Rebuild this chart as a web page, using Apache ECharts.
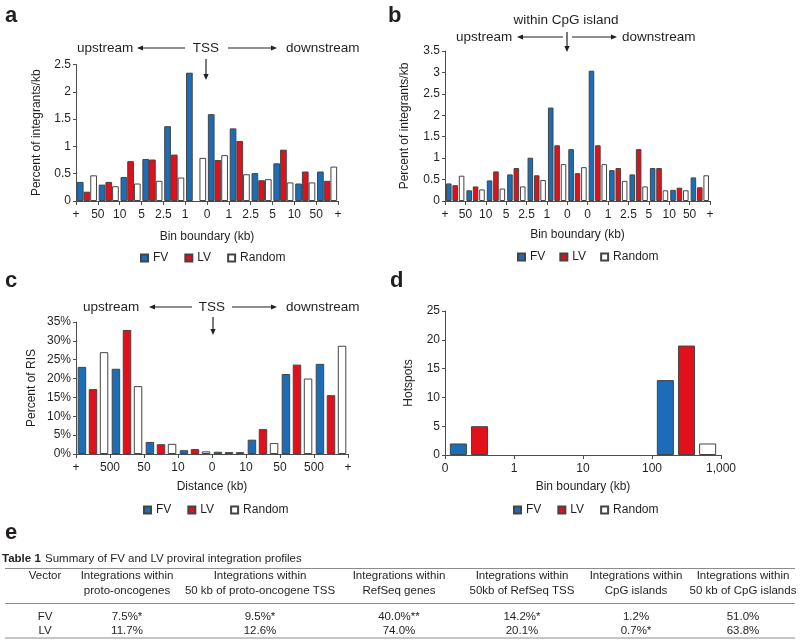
<!DOCTYPE html>
<html>
<head>
<meta charset="utf-8">
<script src="https://cdn.jsdelivr.net/npm/echarts@6.0.0/dist/echarts.min.js"></script>
<style>
    html, body {margin: 0; padding: 0; background: #fff;}
    #main {width: 800px; height: 642px;}
</style>
</head>
<body>
<div id="main"></div>
<script>
// a: distance to TSS
var fvA = [0.35, 0.30, 0.44, 0.77, 1.37, 2.35, 1.59, 1.33, 0.51, 0.69, 0.32, 0.54]
var lvA = [0.17, 0.35, 0.73, 0.76, 0.85, 0, 0.75, 1.10, 0.38, 0.94, 0.54, 0.37]
var rndA = [0.47, 0.27, 0.32, 0.37, 0.43, 0.79, 0.84, 0.49, 0.40, 0.34, 0.34, 0.63]
var tickA = ['+', '50', '10', '5', '2.5', '1', '0', '1', '2.5', '5', '10', '50', '+']

// b: distance to CpG island
var fvB = [0.41, 0.25, 0.48, 0.62, 1.01, 2.18, 1.21, 3.04, 0.72, 0.62, 0.77, 0.26, 0.55]
var lvB = [0.37, 0.34, 0.69, 0.77, 0.60, 1.30, 0.65, 1.30, 0.77, 1.21, 0.77, 0.31, 0.32]
var rndB = [0.59, 0.27, 0.29, 0.34, 0.49, 0.86, 0.79, 0.86, 0.47, 0.34, 0.25, 0.25, 0.60]
var tickB = ['+', '50', '10', '5', '2.5', '1', '0', '0', '1', '2.5', '5', '10', '50', '+']

// c: percent of RIS
var fvC = [23.1, 22.6, 3.2, 1.0, 0.6, 3.8, 21.2, 23.9]
var lvC = [17.2, 32.9, 2.6, 1.3, 0.5, 6.6, 23.7, 15.6]
var rndC = [27.0, 18.0, 2.7, 0.7, 0.5, 2.9, 20.0, 28.7]
var tickC = ['+', '500', '50', '10', '0', '10', '50', '500', '+']

// d: hotspots
var fvD = [2, 0, 0, 13]
var lvD = [5, 0, 0, 19]
var rndD = [0, 0, 0, 2]
var tickD = ['0', '1', '10', '100', '1,000']

// e: table 1
var tableCols = [45, 127, 260, 399, 522, 636, 743]
var tableHead1 = ['Vector', 'Integrations within', 'Integrations within', 'Integrations within', 'Integrations within', 'Integrations within', 'Integrations within']
var tableHead2 = ['', 'proto-oncogenes', '50 kb of proto-oncogene TSS', 'RefSeq genes', '50kb of RefSeq TSS', 'CpG islands', '50 kb of CpG islands']
var tableFV = ['FV', '7.5%*', '9.5%*', '40.0%**', '14.2%*', '1.2%', '51.0%']
var tableLV = ['LV', '11.7%', '12.6%', '74.0%', '20.1%', '0.7%*', '63.8%']

var FONT = '"Liberation Sans", Arial, Helvetica, sans-serif'
var TXT = '#231f20'
var AXIS = '#4d4d4d'
var colorFV = '#1a6db6'
var colorLV = '#e2101b'
var colorRnd = '#ffffff'

var grids = [
    {left: 76, top: 64.5, width: 262, height: 136.5},
    {left: 445, top: 51, width: 265, height: 150},
    {left: 76, top: 322, width: 272, height: 132},
    {left: 445, top: 311, width: 276, height: 144}
]

var panels = [
    {fv: fvA, lv: lvA, rnd: rndA, ticks: tickA, max: 2.5, interval: 0.5, yName: 'Percent of integrants/kb', yGap: 33, xName: 'Bin boundary (kb)', xGap: 30, catGap: '8%', barGap: '0%', fmt: '{value}'},
    {fv: fvB, lv: lvB, rnd: rndB, ticks: tickB, max: 3.5, interval: 0.5, yName: 'Percent of integrants/kb', yGap: 34, xName: 'Bin boundary (kb)', xGap: 28, catGap: '10%', barGap: '15%', fmt: '{value}'},
    {fv: fvC, lv: lvC, rnd: rndC, ticks: tickC, max: 35, interval: 5, yName: 'Percent of RIS', yGap: 38, xName: 'Distance (kb)', xGap: 27, catGap: '10%', barGap: '30%', fmt: '{value}%'},
    {fv: fvD, lv: lvD, rnd: rndD, ticks: tickD, max: 25, interval: 5, yName: 'Hotspots', yGap: 30, xName: 'Bin boundary (kb)', xGap: 26, catGap: '14%', barGap: '24%', fmt: '{value}'}
]

var xAxes = []
var yAxes = []
var series = []

// zero-height bars get no outline so they do not thicken the axis
function barData(arr) {
    return arr.map(function (v) {
        return v === 0 ? {value: 0, itemStyle: {borderWidth: 0}} : v
    })
}

panels.forEach(function (p, g) {
    var nBins = p.ticks.length - 1
    var cats = []
    for (var i = 0; i < nBins; i++) {
        cats.push(p.ticks[i] + '-' + p.ticks[i + 1])
    }
    // hidden category axis carries the bars
    xAxes.push({type: 'category', gridIndex: g, data: cats, show: false, position: 'bottom'})
    // visible value axis puts the labels on the bin boundaries
    xAxes.push({
        type: 'value', gridIndex: g, min: 0, max: nBins, interval: 1, position: 'bottom',
        axisLine: {show: true, lineStyle: {color: AXIS, width: 1}},
        axisTick: {show: true, length: 4, lineStyle: {color: AXIS}},
        splitLine: {show: false},
        axisLabel: {
            color: TXT, fontSize: 12, fontFamily: FONT, margin: 8,
            showMinLabel: true, showMaxLabel: true,
            formatter: (function (t) { return function (v) { return t[Math.round(v)] } })(p.ticks)
        },
        name: p.xName, nameLocation: 'middle', nameGap: p.xGap,
        nameTextStyle: {color: TXT, fontSize: 12, fontFamily: FONT}
    })
    yAxes.push({
        type: 'value', gridIndex: g, min: 0, max: p.max, interval: p.interval,
        axisLine: {show: true, lineStyle: {color: AXIS, width: 1}},
        axisTick: {show: true, length: 3, lineStyle: {color: AXIS}},
        splitLine: {show: false},
        axisLabel: {color: TXT, fontSize: 12, fontFamily: FONT, margin: 5, formatter: p.fmt},
        name: p.yName, nameLocation: 'middle', nameGap: p.yGap, nameRotate: 90,
        nameTextStyle: {color: TXT, fontSize: 12, fontFamily: FONT}
    })
    var defs = [['FV', p.fv, colorFV], ['LV', p.lv, colorLV], ['Random', p.rnd, colorRnd]]
    defs.forEach(function (d) {
        series.push({
            name: d[0], type: 'bar', xAxisIndex: g * 2, yAxisIndex: g,
            data: barData(d[1]), barCategoryGap: p.catGap, barGap: p.barGap,
            itemStyle: {color: d[2], borderColor: '#444', borderWidth: 1},
            emphasis: {disabled: true}, animation: false
        })
    })
})

// legends under each panel
function makeLegend(left, top, gap) {
    return {
        left: left, top: top, padding: 0, itemGap: gap,
        itemWidth: 7, itemHeight: 7, icon: 'rect',
        data: ['FV', 'LV', 'Random'],
        selectedMode: false,
        textStyle: {color: TXT, fontSize: 12, fontFamily: FONT}
    }
}

// annotation helpers
function txt(x, y, s, size, align, bold) {
    return {
        type: 'text', x: x, y: y, silent: true,
        style: {
            text: s, fill: TXT,
            font: (bold ? 'bold ' : '') + size + 'px ' + FONT,
            align: align || 'left', verticalAlign: 'middle',
            textAlign: align || 'left', textVerticalAlign: 'middle'
        }
    }
}

function arrow(x1, y1, x2, y2) {
    var dx = x2 - x1, dy = y2 - y1
    var len = Math.sqrt(dx * dx + dy * dy)
    var ux = dx / len, uy = dy / len
    var hl = 6, hw = 2.6
    var bx = x2 - ux * hl, by = y2 - uy * hl
    return [
        {type: 'line', silent: true, shape: {x1: x1, y1: y1, x2: bx, y2: by}, style: {stroke: TXT, lineWidth: 1.2}},
        {type: 'polygon', silent: true, shape: {points: [[x2, y2], [bx - uy * hw, by + ux * hw], [bx + uy * hw, by - ux * hw]]}, style: {fill: TXT}}
    ]
}

function hline(x1, x2, y) {
    return {type: 'line', silent: true, shape: {x1: x1, y1: y, x2: x2, y2: y}, style: {stroke: '#8c8c8c', lineWidth: 1}}
}

var graphics = []
// panel letters
graphics.push(txt(5, 16, 'a', 22, 'left', true))
graphics.push(txt(388, 16, 'b', 22, 'left', true))
graphics.push(txt(5, 281, 'c', 22, 'left', true))
graphics.push(txt(390, 281, 'd', 22, 'left', true))
graphics.push(txt(5, 533, 'e', 22, 'left', true))

// a header
graphics.push(txt(77, 48, 'upstream', 13.5))
graphics.push(txt(206, 48, 'TSS', 13.5, 'center'))
graphics.push(txt(286, 48, 'downstream', 13.5))
graphics = graphics.concat(arrow(185, 48, 137, 48), arrow(228, 48, 277, 48), arrow(206, 59, 206, 80))

// b header
graphics.push(txt(566, 20, 'within CpG island', 13.5, 'center'))
graphics.push(txt(456, 37, 'upstream', 13.5))
graphics.push(txt(622, 37, 'downstream', 13.5))
graphics = graphics.concat(arrow(563, 37, 517, 37), arrow(572, 37, 617, 37), arrow(567, 32, 567, 52))

// c header
graphics.push(txt(83, 307, 'upstream', 13.5))
graphics.push(txt(212, 307, 'TSS', 13.5, 'center'))
graphics.push(txt(286, 307, 'downstream', 13.5))
graphics = graphics.concat(arrow(192, 307, 149, 307), arrow(232, 307, 277, 307), arrow(213, 317, 213, 335))

// e table
graphics.push(txt(2, 559, 'Table 1', 11.5, 'left', true))
graphics.push(txt(45, 559, 'Summary of FV and LV proviral integration profiles', 11.5))
graphics.push(hline(5, 795, 568.5))
graphics.push(hline(5, 795, 603.5))
graphics.push(hline(5, 795, 638))
tableCols.forEach(function (x, i) {
    graphics.push(txt(x, 576, tableHead1[i], 11.5, 'center'))
    graphics.push(txt(x, 591, tableHead2[i], 11.5, 'center'))
    graphics.push(txt(x, 617, tableFV[i], 11.5, 'center'))
    graphics.push(txt(x, 631, tableLV[i], 11.5, 'center'))
})

var myChart = echarts.init(document.getElementById('main'), null, {renderer: 'canvas'})

var option = {
    animation: false,
    backgroundColor: '#fff',
    textStyle: {fontFamily: FONT},
    grid: grids,
    xAxis: xAxes,
    yAxis: yAxes,
    legend: [
        makeLegend(140, 252, 16),
        makeLegend(517, 251, 14),
        makeLegend(143, 504, 16),
        makeLegend(513, 504, 16)
    ],
    series: series,
    graphic: graphics
}

myChart.setOption(option)
</script>
</body>
</html>
